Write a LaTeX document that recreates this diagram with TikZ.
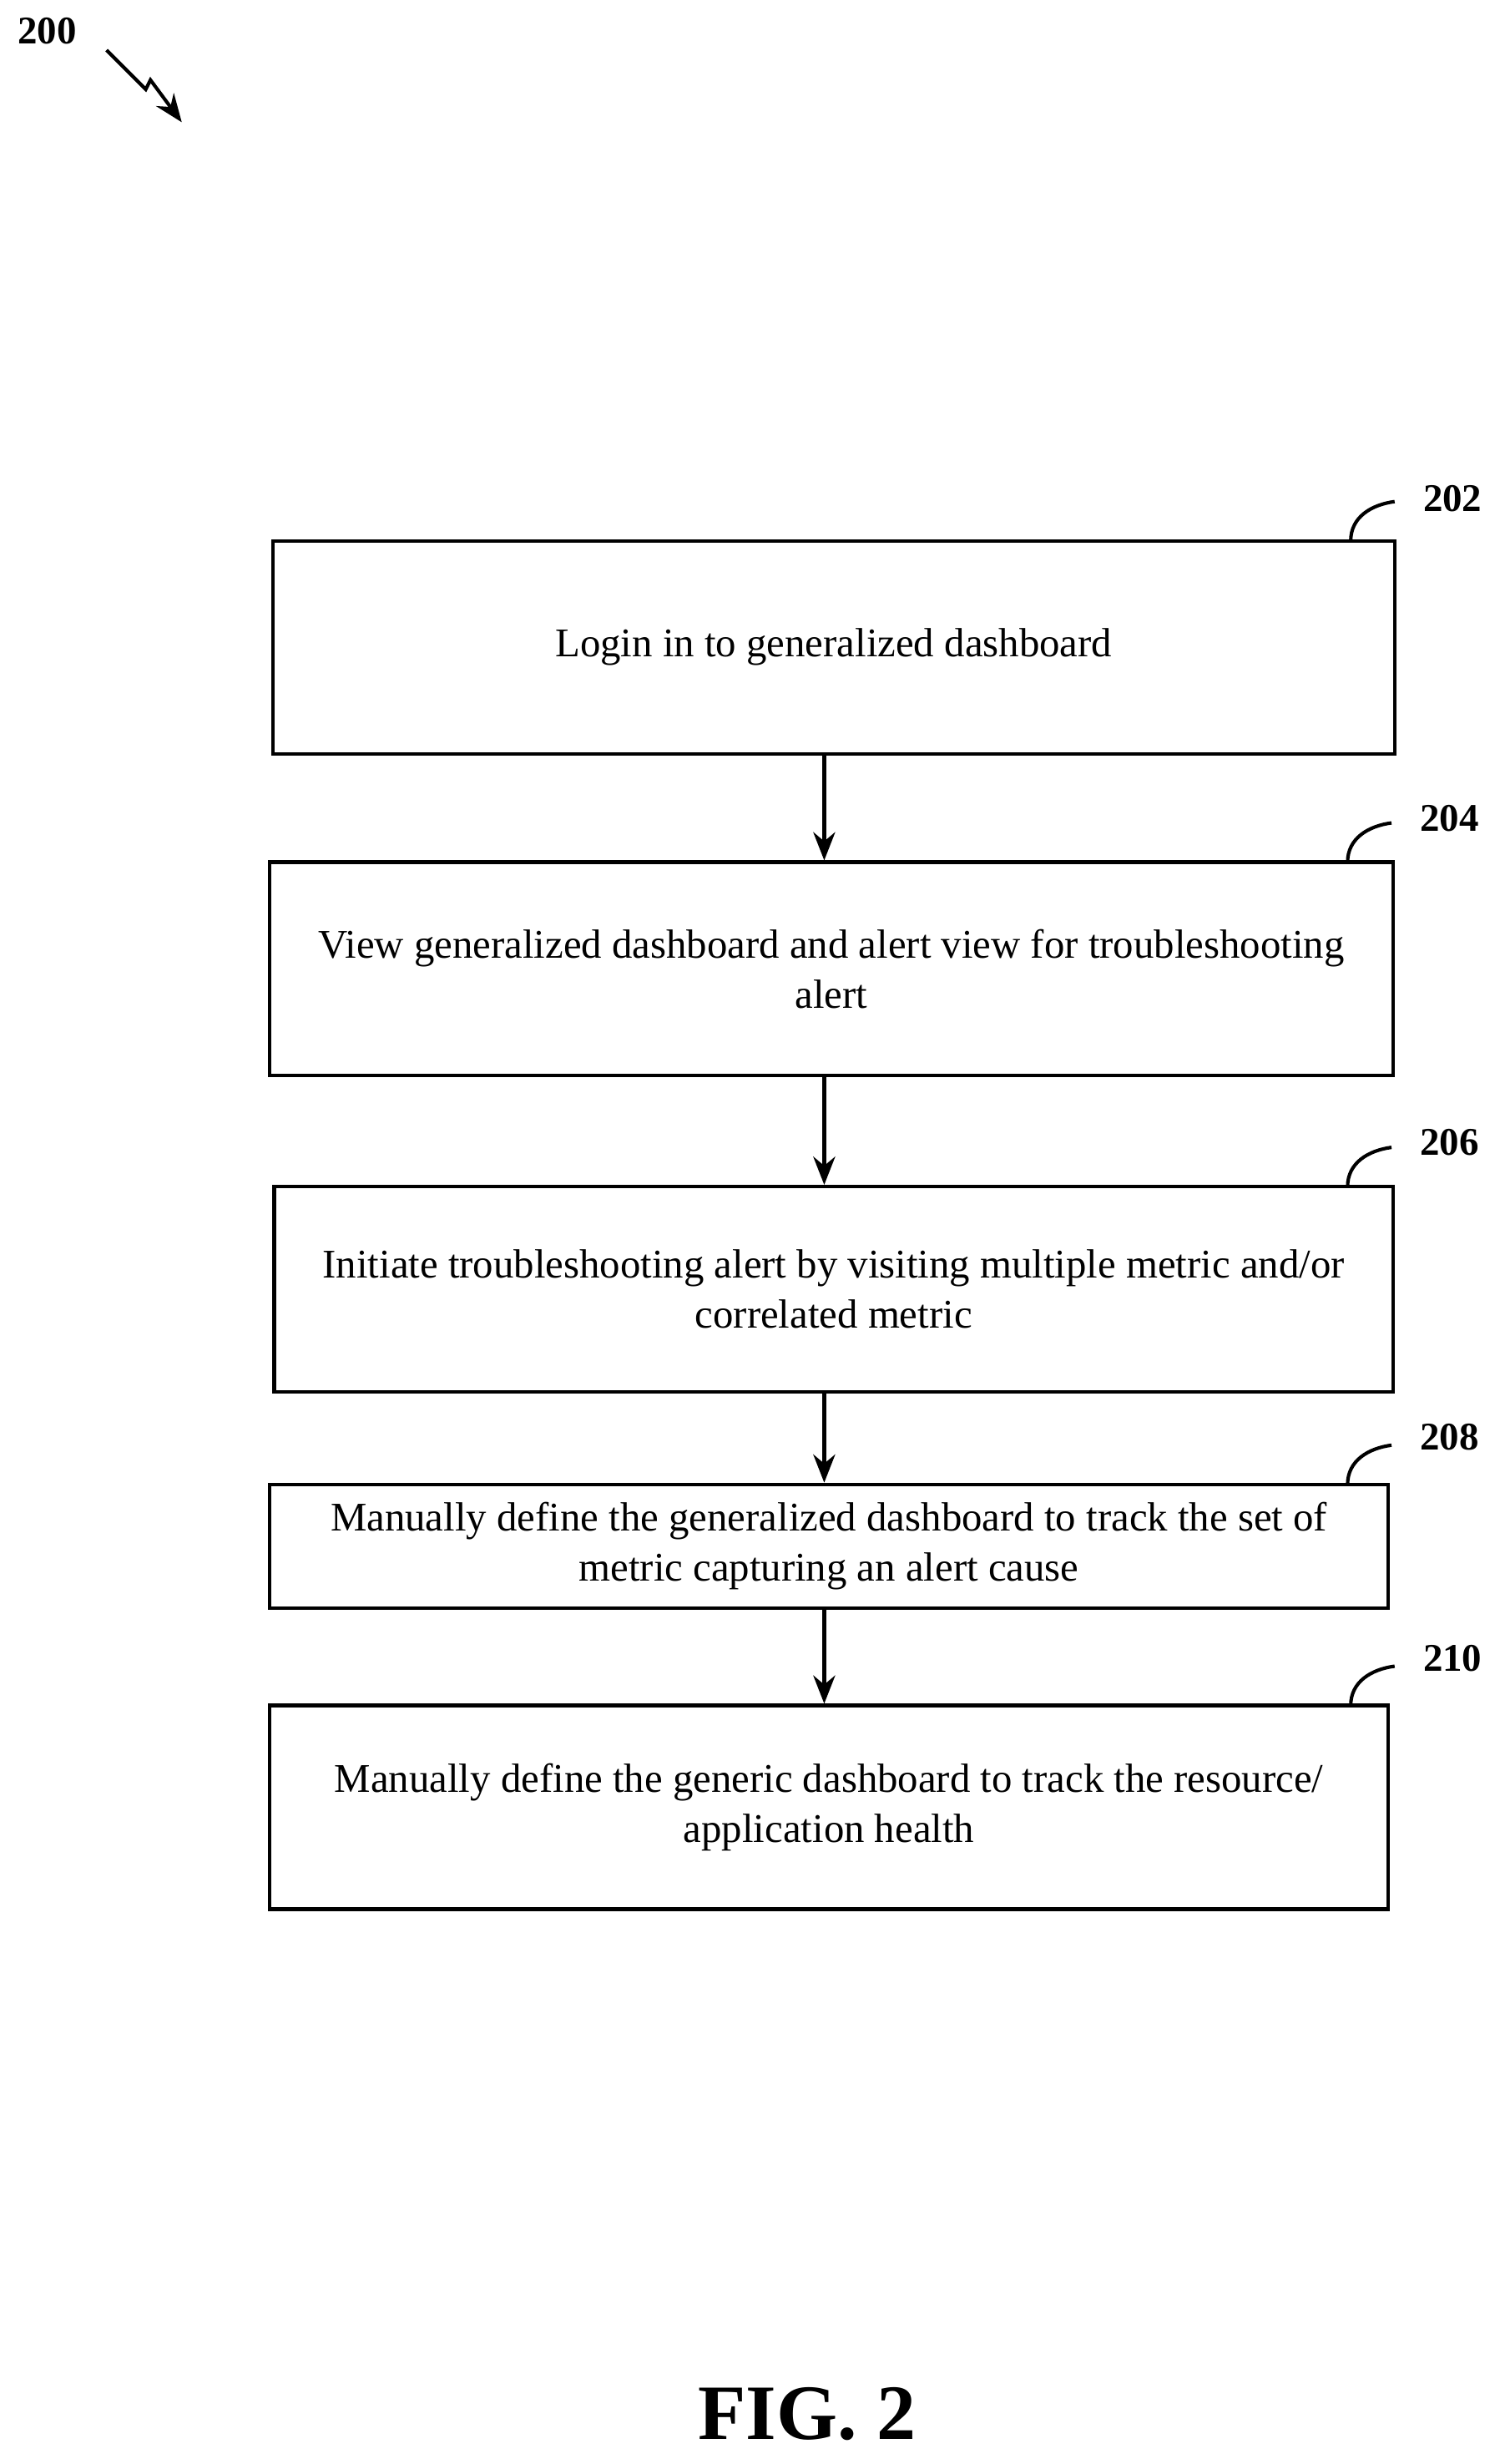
\documentclass[tikz,border=0pt]{standalone}
\usepackage{fontspec}
\setmainfont{Liberation Serif}
\usetikzlibrary{arrows.meta}
\begin{document}
\begin{tikzpicture}[x=0.5pt,y=-0.5pt,
  box/.style={draw,line width=1.1pt,align=center,font=\fontsize{13}{16}\selectfont,inner sep=0pt},
  lbl/.style={font=\fontsize{12.5}{14}\selectfont\bfseries},
  arr/.style={line width=1.1pt,-{Stealth[length=9pt,width=7pt]}},
  call/.style={line width=1.1pt}]
\useasboundingbox (0,0) rectangle (960,1572);
\node[lbl] (n200) at (30,20) {200};
\coordinate (z0) at (68,32);
\coordinate (z1) at (116,78);
\draw[line width=1.1pt,-{Stealth[length=9pt,width=7pt]}] (z0) -- (93,57) -- (96,51) -- (z1);
\node[box,minimum width=358pt,minimum height=68pt] (b202) at (532,413) {Login in to generalized dashboard};
\node[box,minimum width=358.5pt,minimum height=68pt] (b204) at (530.5,618) {View generalized dashboard and alert view for troubleshooting\\alert};
\node[box,minimum width=357pt,minimum height=65.5pt] (b206) at (532,822.5) {Initiate troubleshooting alert by visiting multiple metric and/or\\correlated metric};
\node[box,minimum width=357pt,minimum height=39.5pt] (b208) at (529,986.5) {Manually define the generalized dashboard to track the set of\\metric capturing an alert cause};
\node[box,minimum width=357pt,minimum height=65pt] (b210) at (529,1153) {Manually define the generic dashboard to track the resource/\\application health};
\coordinate (ax) at (526,0);
\draw[arr] (b202.south -| ax) -- (b204.north -| ax);
\draw[arr] (b204.south -| ax) -- (b206.north -| ax);
\draw[arr] (b206.south -| ax) -- (b208.north -| ax);
\draw[arr] (b208.south -| ax) -- (b210.north -| ax);
\node[lbl] (l202) at (927,318) {202};
\node[lbl] (l204) at (925,522) {204};
\node[lbl] (l206) at (925,729) {206};
\node[lbl] (l208) at (925,917) {208};
\node[lbl] (l210) at (927,1058) {210};
\draw[call] (862,345) .. controls (862,330) and (875,322) .. (890,320);
\draw[call] (860,550) .. controls (860,535) and (873,527) .. (888,525);
\draw[call] (860,757) .. controls (860,742) and (873,734) .. (888,732);
\draw[call] (860,947) .. controls (860,932) and (873,924) .. (888,922);
\draw[call] (862,1088) .. controls (862,1073) and (875,1065) .. (890,1063);
\node[font=\fontsize{25}{28}\selectfont\bfseries] (fig) at (515,1540) {FIG. 2};
\end{tikzpicture}
\end{document}
